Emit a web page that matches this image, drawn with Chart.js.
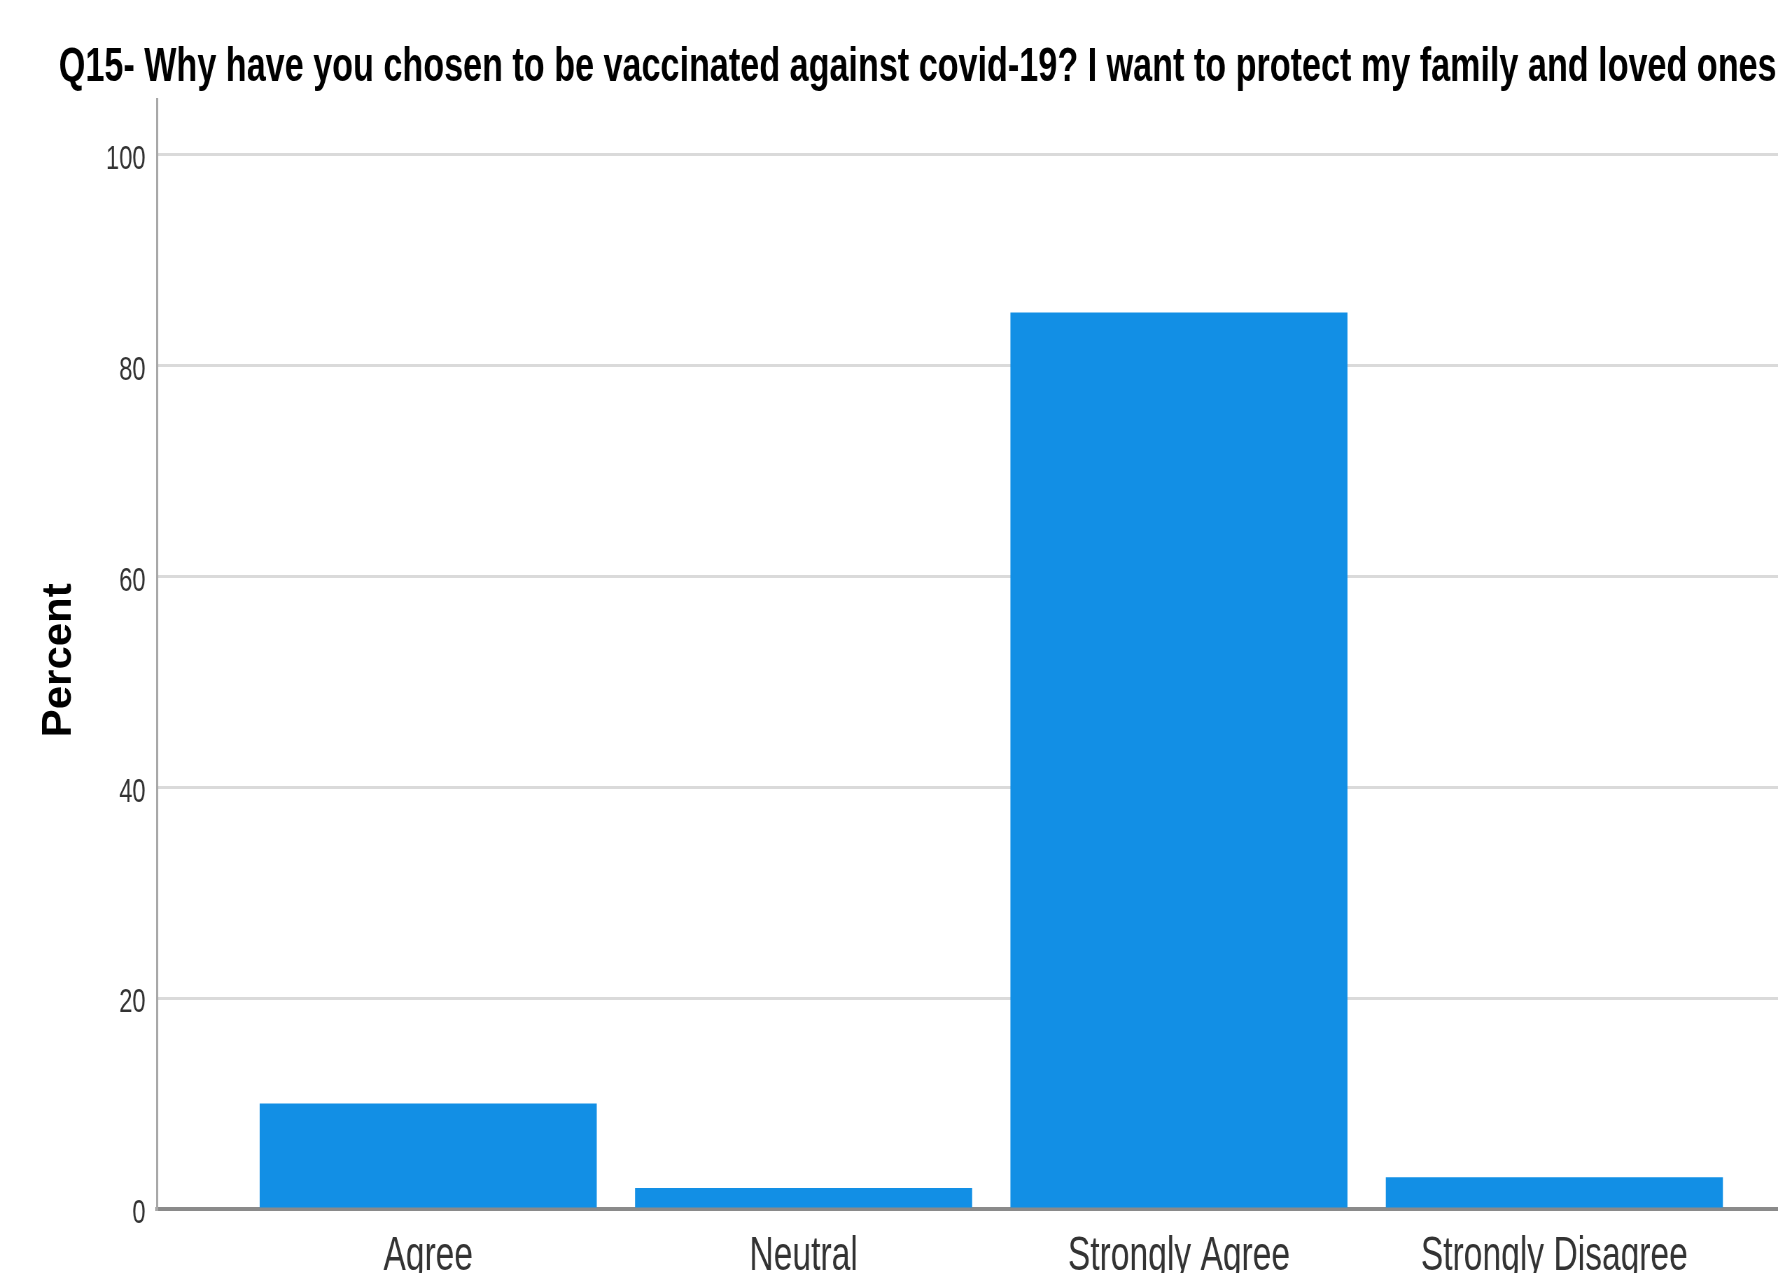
<!DOCTYPE html>
<html lang="en">
<head>
    <meta charset="UTF-8">
    <title>Q15 - Percent</title>
    <script src="https://cdn.jsdelivr.net/npm/chart.js@4.4.1/dist/chart.umd.min.js"></script>
    <style>
        html, body {
            margin: 0;
            padding: 0;
            background: #ffffff;
            overflow: hidden;
        }

        /* the original SPSS output is squeezed sideways and cut off on the right,
           so the chart is drawn wide, squashed, and a bit wider than the window */
        .squash {
            width: 2620px;
            height: 1273px;
            transform: scaleX(0.7);
            transform-origin: 0 0;
        }
    </style>
</head>
<body>
    <div class="squash">
        <canvas id="chart"></canvas>
    </div>

    <script>
        const SQUASH = 0.7;

        const chartTitle = 'Q15- Why have you chosen to be vaccinated against covid-19? I want to protect my family and loved ones';
        const yAxisLabel = 'Percent';
        const categories = ['Agree', 'Neutral', 'Strongly Agree', 'Strongly Disagree'];
        const percentValues = [10, 2, 85, 3];
        const yTickValues = [0, 20, 40, 60, 80, 100];

        // y title drawn by hand so it is not thinned by the squash
        const yTitlePlugin = {
            id: 'yTitle',
            afterDraw(chart) {
                const ctx = chart.ctx;
                const y = chart.scales.y;
                ctx.save();
                ctx.translate(84, (y.top + y.bottom) / 2 + 6);
                ctx.scale(1 / SQUASH, 1);
                ctx.rotate(-Math.PI / 2);
                ctx.font = 'bold 42px "Liberation Sans", Arial, sans-serif';
                ctx.fillStyle = '#000000';
                ctx.textAlign = 'center';
                ctx.textBaseline = 'middle';
                ctx.fillText(yAxisLabel, 0, 0);
                ctx.restore();
            }
        };

        const ctx = document.getElementById('chart').getContext('2d');
        new Chart(ctx, {
            type: 'bar',
            data: {
                datasets: [{
                    label: yAxisLabel,
                    data: percentValues.map((v, i) => ({ x: i, y: v })),
                    backgroundColor: '#128fe5',
                    borderWidth: 0,
                    categoryPercentage: 1,
                    barPercentage: 0.898
                }]
            },
            options: {
                responsive: true,
                maintainAspectRatio: false,
                animation: false,
                layout: {
                    padding: { left: 84, right: 0, top: 0, bottom: 0 }
                },
                plugins: {
                    legend: { display: false },
                    tooltip: { enabled: false },
                    title: {
                        display: true,
                        text: chartTitle,
                        align: 'start',
                        color: '#000000',
                        font: { family: '"Liberation Sans", Arial, sans-serif', size: 48.8, weight: 'bold' },
                        padding: { top: 38, bottom: 3 }
                    }
                },
                scales: {
                    x: {
                        type: 'linear',
                        offset: false,
                        min: -0.723,
                        max: 3.745,
                        afterBuildTicks(scale) {
                            scale.ticks = categories.map((c, i) => ({ value: i }));
                        },
                        afterFit(scale) {
                            scale.height = 64;
                        },
                        ticks: {
                            autoSkip: false,
                            maxRotation: 0,
                            padding: 19,
                            color: '#333333',
                            font: { family: '"Liberation Sans", Arial, sans-serif', size: 48 },
                            callback: (v) => categories[v] ?? ''
                        },
                        grid: { display: false, drawTicks: false },
                        border: { display: true, color: '#8a8a8a', width: 4 }
                    },
                    y: {
                        min: 0,
                        max: 105.2,
                        afterBuildTicks(scale) {
                            scale.ticks = yTickValues.map(v => ({ value: v }));
                        },
                        afterFit(scale) {
                            scale.width = 140;
                        },
                        ticks: {
                            padding: 16,
                            labelOffset: 5,
                            color: '#333333',
                            font: { family: '"Liberation Sans", Arial, sans-serif', size: 34 }
                        },
                        grid: {
                            color: '#dadada',
                            lineWidth: 3,
                            drawTicks: false
                        },
                        border: { display: true, color: '#a8a8a8', width: 3 }
                    }
                }
            },
            plugins: [yTitlePlugin]
        });
    </script>
</body>
</html>
